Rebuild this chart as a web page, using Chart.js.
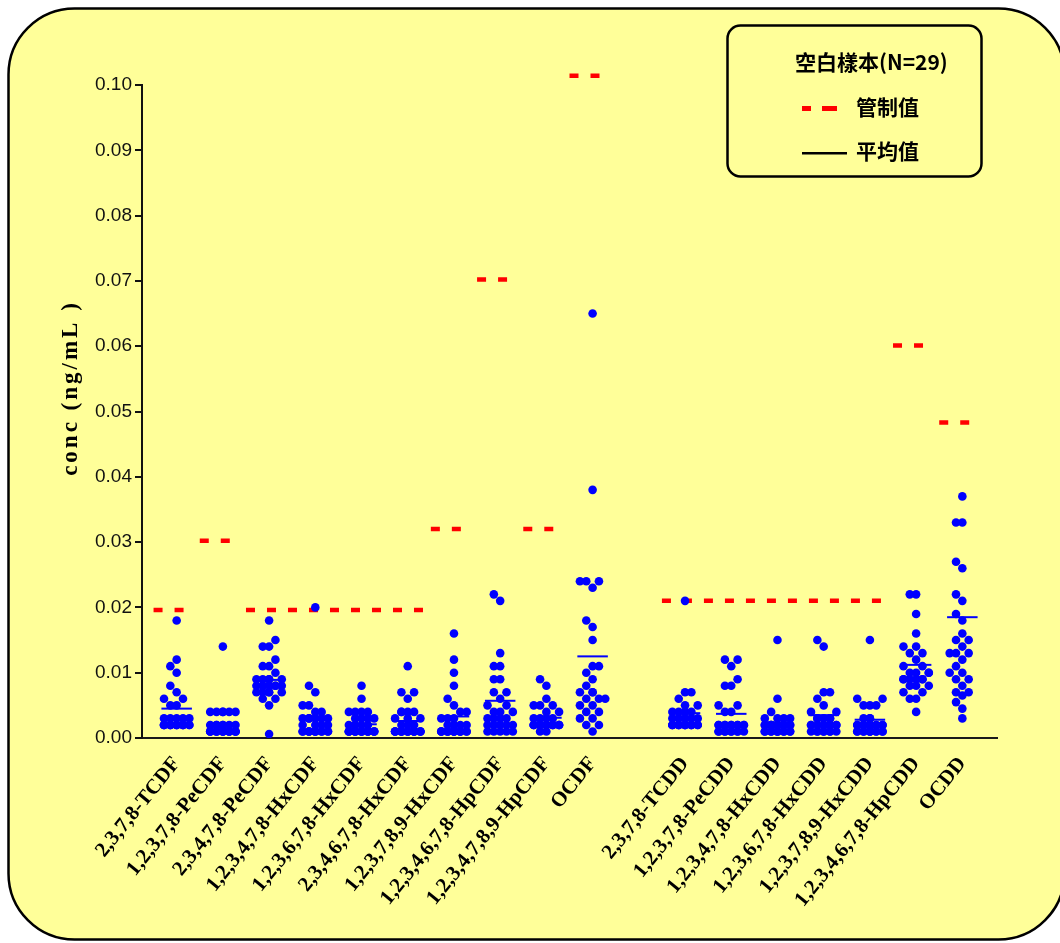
<!DOCTYPE html>
<html>
<head>
<meta charset="utf-8">
<script src="https://cdn.jsdelivr.net/npm/chart.js@4/dist/chart.umd.min.js"></script>
<style>
html,body{margin:0;padding:0;background:#ffffff;}
#wrap{position:relative;width:1060px;height:943px;}
canvas{display:block;}
</style>
</head>
<body>
<div id="wrap"><canvas id="c" width="1060" height="943"></canvas></div>
<script>
// ---------- data ----------
const categories = [
  '2,3,7,8-TCDF', '1,2,3,7,8-PeCDF', '2,3,4,7,8-PeCDF', '1,2,3,4,7,8-HxCDF',
  '1,2,3,6,7,8-HxCDF', '2,3,4,6,7,8-HxCDF', '1,2,3,7,8,9-HxCDF',
  '1,2,3,4,6,7,8-HpCDF', '1,2,3,4,7,8,9-HpCDF', 'OCDF', '',
  '2,3,7,8-TCDD', '1,2,3,7,8-PeCDD', '1,2,3,4,7,8-HxCDD', '1,2,3,6,7,8-HxCDD',
  '1,2,3,7,8,9-HxCDD', '1,2,3,4,6,7,8-HpCDD', 'OCDD'
];
const yTicks = [0.00, 0.01, 0.02, 0.03, 0.04, 0.05, 0.06, 0.07, 0.08, 0.09, 0.10];

const TCDF_2378 = [0.018,0.012,0.011,0.010,0.008,0.007,0.006,0.006,0.005,0.005,0.003,0.003,0.003,0.003,0.003,
  0.002,0.002,0.002,0.002,0.002,0.002,0.002,0.002,0.002,0.002,0.002,0.002,0.002,0.002];
const PeCDF_12378 = [0.014,0.004,0.004,0.004,0.004,0.004,0.004,0.002,0.002,0.002,0.002,0.002,0.002,0.002,
  0.001,0.001,0.001,0.001,0.001,0.001,0.001,0.001,0.001,0.001,0.001,0.001,0.001,0.001,0.001];
const PeCDF_23478 = [0.018,0.015,0.014,0.014,0.012,0.011,0.011,0.010,0.006,0.006,0.005,0.0006,
  0.009,0.009,0.009,0.009,0.009,0.008,0.008,0.008,0.008,0.008,0.008,0.008,0.007,0.007,0.007,0.007,0.007];
const HxCDF_123478 = [0.020,0.008,0.007,0.005,0.005,0.004,0.004,0.003,0.003,0.003,0.003,0.003,0.003,
  0.002,0.002,0.002,0.002,0.001,0.001,0.001,0.001,0.001,0.001,0.001,0.001,0.001,0.001,0.001,0.001];
const HxCDF_123678 = [0.008,0.006,0.004,0.004,0.004,0.004,0.003,0.003,0.003,0.003,0.002,0.002,0.002,0.002,
  0.001,0.001,0.001,0.001,0.001,0.001,0.001,0.001,0.001,0.001,0.001,0.001,0.001,0.001,0.001];
const HxCDF_234678 = [0.011,0.007,0.007,0.006,0.004,0.004,0.004,0.004,0.003,0.003,0.003,0.002,0.002,0.002,
  0.001,0.001,0.001,0.001,0.001,0.001,0.001,0.001,0.001,0.001,0.001,0.001,0.001,0.001,0.001];
const HxCDF_123789 = [0.016,0.012,0.010,0.008,0.006,0.005,0.004,0.004,0.003,0.003,0.003,0.002,0.002,0.002,0.002,
  0.001,0.001,0.001,0.001,0.001,0.001,0.001,0.001,0.001,0.001,0.001,0.001,0.001,0.001];
const HpCDF_1234678 = [0.022,0.021,0.013,0.011,0.011,0.009,0.009,0.007,0.007,0.006,0.005,0.005,0.004,0.004,0.004,
  0.003,0.003,0.003,0.003,0.002,0.002,0.002,0.002,0.002,0.001,0.001,0.001,0.001,0.001];
const HpCDF_1234789 = [0.009,0.008,0.006,0.005,0.005,0.005,0.004,0.004,0.003,0.003,0.003,0.003,
  0.002,0.002,0.002,0.002,0.002,0.002,0.002,0.002,0.002,0.002,0.002,0.002,0.002,0.002,0.002,0.001,0.001];
const OCDF = [0.065,0.038,0.024,0.024,0.024,0.023,0.018,0.017,0.015,0.011,0.011,0.010,0.009,0.008,
  0.007,0.007,0.007,0.006,0.006,0.006,0.005,0.005,0.004,0.004,0.003,0.003,0.002,0.002,0.001];
const TCDD_2378 = [0.021,0.007,0.007,0.006,0.005,0.005,0.004,0.004,0.004,0.004,0.003,0.003,0.003,0.003,0.003,
  0.002,0.002,0.002,0.002,0.002,0.002,0.002,0.002,0.002,0.002,0.002,0.002,0.002,0.002];
const PeCDD_12378 = [0.012,0.012,0.011,0.009,0.008,0.008,0.005,0.005,0.004,0.004,
  0.002,0.002,0.002,0.002,0.002,0.002,0.002,0.002,0.002,0.002,0.001,0.001,0.001,0.001,0.001,0.001,0.001,0.001,0.001];
const HxCDD_123478 = [0.015,0.006,0.004,0.003,0.003,0.003,0.003,0.002,0.002,0.002,0.002,0.002,0.002,0.002,0.002,0.002,0.002,0.002,
  0.001,0.001,0.001,0.001,0.001,0.001,0.001,0.001,0.001,0.001,0.001];
const HxCDD_123678 = [0.015,0.014,0.007,0.007,0.006,0.005,0.004,0.004,0.003,0.003,0.003,0.003,0.003,
  0.002,0.002,0.002,0.002,0.002,0.002,0.002,0.002,0.001,0.001,0.001,0.001,0.001,0.001,0.001,0.001];
const HxCDD_123789 = [0.015,0.006,0.006,0.005,0.005,0.005,0.003,0.003,0.003,0.002,0.002,0.002,0.002,0.002,0.002,0.002,0.002,0.002,
  0.001,0.001,0.001,0.001,0.001,0.001,0.001,0.001,0.001,0.001,0.001];
const HpCDD_1234678 = [0.022,0.022,0.019,0.016,0.014,0.014,0.013,0.013,0.012,0.011,0.011,0.010,0.010,0.010,0.010,
  0.009,0.009,0.009,0.009,0.009,0.009,0.008,0.008,0.008,0.007,0.007,0.006,0.006,0.004];
const OCDD = [0.037,0.033,0.033,0.027,0.026,0.022,0.021,0.019,0.018,0.016,0.015,0.015,0.014,0.013,0.013,0.013,
  0.012,0.011,0.010,0.010,0.009,0.009,0.008,0.007,0.007,0.0065,0.0055,0.0045,0.003];

const seriesValues = [TCDF_2378, PeCDF_12378, PeCDF_23478, HxCDF_123478, HxCDF_123678, HxCDF_234678,
  HxCDF_123789, HpCDF_1234678, HpCDF_1234789, OCDF, [],
  TCDD_2378, PeCDD_12378, HxCDD_123478, HxCDD_123678, HxCDD_123789, HpCDD_1234678, OCDD];

// mean lines (平均值) as drawn in the figure
const meanValues = [0.0045, 0.0023, 0.0089, 0.0031, 0.0021, 0.0026, 0.0033, 0.0057, 0.0031, 0.0125, null,
  0.0038, 0.0037, 0.0024, 0.0035, 0.0028, 0.0112, 0.0185];
// control limits (管制值)
const controlLimits = [0.0196, 0.0302, 0.0196, 0.0196, 0.0196, 0.0196, 0.0320, 0.0702, 0.0320, 0.1014, null,
  0.0210, 0.0210, 0.0210, 0.0210, 0.0210, 0.0601, 0.0483];

const legendTitle = '空白樣本(N=29)';
const legendControl = '管制值';
const legendMean = '平均值';
const yTitle = 'conc (ng/mL )';

// ---------- layout helpers ----------
const BLUE = '#0000ff', RED = '#ff0000';
const DX = 0.137;      // horizontal spread step (category units)
const GAP = 0.00105;   // vertical collision distance (value units)
const MAXSLOT = 2;

function swarm(vals, idx) {
  const sorted = vals.slice().sort((a, b) => a - b);
  const slots = [0];
  for (let k = 1; k <= MAXSLOT; k++) { slots.push(-k, k); }
  const placed = [];
  const pts = [];
  for (const v of sorted) {
    let chosen = null;
    for (const s of slots) {
      if (!placed.some(p => p.s === s && Math.abs(p.v - v) < GAP)) { chosen = s; break; }
    }
    if (chosen === null) {
      let best = 0, bestCount = Infinity;
      for (const s of slots) {
        const c = placed.filter(p => p.s === s && Math.abs(p.v - v) < GAP).length;
        if (c < bestCount) { bestCount = c; best = s; }
      }
      chosen = best;
    }
    placed.push({ s: chosen, v });
    pts.push({ x: idx + chosen * DX, y: v });
  }
  return pts;
}

const datasets = [];
const allPts = [];
seriesValues.forEach((vals, i) => { allPts.push(...swarm(vals, i)); });
datasets.push({
  type: 'scatter', data: allPts, order: 2,
  pointRadius: 4.3, pointHoverRadius: 4.3, pointBackgroundColor: BLUE, pointBorderWidth: 0, showLine: false
});
meanValues.forEach((m, i) => {
  if (m === null) return;
  datasets.push({
    type: 'line', data: [{ x: i - 0.33, y: m }, { x: i + 0.33, y: m }], order: 1,
    borderColor: BLUE, borderWidth: 2, pointRadius: 0, fill: false
  });
});
let s = 0;
while (s < controlLimits.length) {
  const v = controlLimits[s];
  if (v === null) { s++; continue; }
  let e = s;
  while (e + 1 < controlLimits.length && controlLimits[e + 1] === v) e++;
  datasets.push({
    type: 'line', data: [{ x: s - 0.5, y: v }, { x: e + 0.4, y: v }], order: 3,
    borderColor: RED, borderWidth: 4.5, borderDash: [9, 12], borderCapStyle: 'butt',
    pointRadius: 0, fill: false, clip: false
  });
  s = e + 1;
}

// ---------- plugins ----------
function roundRect(ctx, x, y, w, h, r) {
  ctx.beginPath();
  ctx.moveTo(x + r, y);
  ctx.lineTo(x + w - r, y); ctx.arcTo(x + w, y, x + w, y + r, r);
  ctx.lineTo(x + w, y + h - r); ctx.arcTo(x + w, y + h, x + w - r, y + h, r);
  ctx.lineTo(x + r, y + h); ctx.arcTo(x, y + h, x, y + h - r, r);
  ctx.lineTo(x, y + r); ctx.arcTo(x, y, x + r, y, r);
  ctx.closePath();
}
const bgPlugin = {
  id: 'bg',
  beforeDraw(chart) {
    const ctx = chart.ctx;
    ctx.save();
    ctx.fillStyle = '#ffffff';
    ctx.fillRect(0, 0, chart.width, chart.height);
    roundRect(ctx, 8.5, 8.5, 1056, 931, 66);
    ctx.fillStyle = '#ffff99';
    ctx.fill();
    ctx.lineWidth = 2.5;
    ctx.strokeStyle = '#000';
    ctx.stroke();
    ctx.restore();
  }
};
const decoPlugin = {
  id: 'deco',
  afterDraw(chart) {
    const ctx = chart.ctx;
    ctx.save();
    ctx.translate(71, 388);
    ctx.rotate(-Math.PI / 2);
    ctx.font = "bold 23px 'Liberation Serif', 'Times New Roman', serif";
    ctx.fillStyle = '#000';
    ctx.textAlign = 'center';
    ctx.textBaseline = 'middle';
    try { ctx.letterSpacing = '3px'; } catch (e) {}
    ctx.fillText(yTitle, 0, 0);
    ctx.restore();

    ctx.save();
    roundRect(ctx, 727.5, 25.5, 254, 151, 13);
    ctx.fillStyle = '#ffff99';
    ctx.fill();
    ctx.lineWidth = 2.5;
    ctx.strokeStyle = '#000';
    ctx.stroke();
    ctx.fillStyle = '#000';
    ctx.textBaseline = 'middle';
    ctx.textAlign = 'left';
    ctx.font = "bold 21px 'Noto Sans CJK TC', 'Noto Sans CJK SC', sans-serif";
    ctx.fillText(legendTitle, 795, 62);
    ctx.fillText(legendControl, 856, 107);
    ctx.fillText(legendMean, 856, 151);
    ctx.fillStyle = RED;
    ctx.fillRect(802, 106, 9, 5);
    ctx.fillRect(822, 106, 15, 5);
    ctx.fillStyle = '#000';
    ctx.fillRect(802, 152, 45, 2.5);
    ctx.restore();
  }
};

// ---------- chart ----------
const chart = new Chart(document.getElementById('c'), {
  type: 'scatter',
  data: { datasets },
  options: {
    responsive: false,
    animation: false,
    devicePixelRatio: 1,
    events: [],
    layout: { padding: { left: 0, right: 63, top: 85, bottom: 0 } },
    plugins: { legend: { display: false }, tooltip: { enabled: false } },
    scales: {
      x: {
        type: 'linear', min: -0.75, max: 17.75,
        afterBuildTicks(scale) {
          scale.ticks = categories.map((c, i) => ({ value: i })).filter(t => categories[t.value] !== '');
        },
        afterFit(scale) { scale.height = 943 - 738; },
        grid: { display: false },
        border: { display: true, color: '#1a1a1a', width: 2 },
        ticks: {
          autoSkip: false, maxRotation: 51, minRotation: 51, padding: 6,
          callback: v => categories[v] ?? '',
          color: '#000',
          font: { family: "'Liberation Serif', 'Times New Roman', serif", size: 21, weight: 'bold' }
        }
      },
      y: {
        min: 0, max: 0.1,
        afterBuildTicks(scale) { scale.ticks = yTicks.map(v => ({ value: v })); },
        afterFit(scale) { scale.width = 142; },
        grid: { drawOnChartArea: false, drawTicks: true, tickLength: 7, color: '#111', lineWidth: 2 },
        border: { display: true, color: '#111', width: 2 },
        ticks: {
          padding: 3, color: '#111',
          callback: v => Number(v).toFixed(2),
          font: { family: "'Liberation Sans', Arial, sans-serif", size: 19 }
        }
      }
    }
  },
  plugins: [bgPlugin, decoPlugin]
});
</script>
</body>
</html>
